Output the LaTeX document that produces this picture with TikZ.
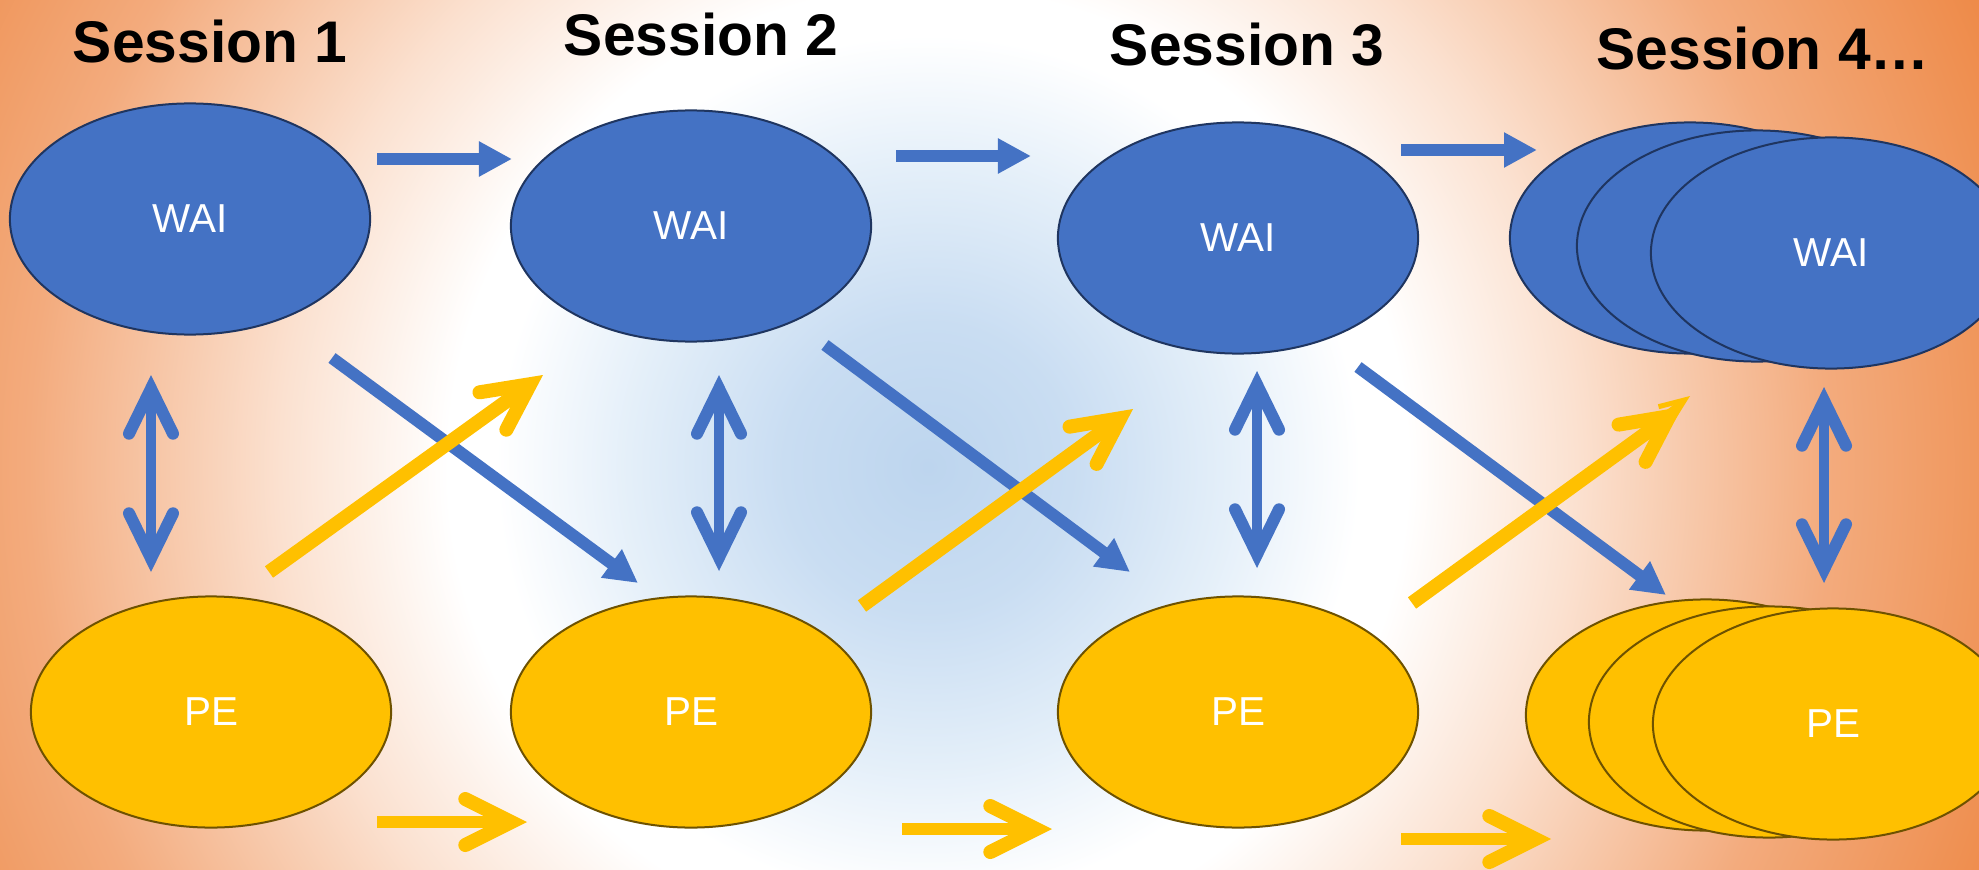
\documentclass[tikz,border=0pt]{standalone}
\usepackage{fontspec}
\setmainfont{Liberation Sans}
\usetikzlibrary{arrows.meta,shapes.geometric}
\definecolor{waiblue}{HTML}{4472C4}
\definecolor{waiedge}{HTML}{1F3560}
\definecolor{peyellow}{HTML}{FFC000}
\definecolor{peedge}{HTML}{6E5200}
\definecolor{bgA}{HTML}{BDD5EE}
\definecolor{bgB}{HTML}{C9DDF2}
\definecolor{bgC}{HTML}{E4EFF9}
\definecolor{bgD}{HTML}{FBE1D0}
\definecolor{bgE}{HTML}{F3AB7D}
\definecolor{bgF}{HTML}{EE8A48}
\pgfdeclareradialshading{bgshade}{\pgfpoint{0bp}{0bp}}{color(0bp)=(bgA); color(3bp)=(bgB); color(6.25bp)=(bgC); color(9bp)=(white); color(10bp)=(white); color(13.5bp)=(bgD); color(18.75bp)=(bgE); color(24bp)=(bgF); color(50bp)=(bgF)}
\begin{document}
\begin{tikzpicture}[x=0.01cm,y=-0.01cm,
  wai/.style={ellipse, draw=waiedge, fill=waiblue, line width=0.02cm,
    minimum width=3.6cm, minimum height=2.31cm, inner sep=0pt,
    text=white, font=\fontsize{11.5}{13}\selectfont},
  pe/.style={wai, draw=peedge, fill=peyellow},
  title/.style={font=\fontsize{16.7}{20}\selectfont\bfseries, anchor=base, inner sep=0pt},
  bluetri/.style={draw=waiblue, line width=0.12cm,
    -{Triangle[length=0.33cm,width=0.33cm]}},
  yelbarb/.style={draw=peyellow, line width=0.12cm,
    -{Straight Barb[length=0.46cm,width=0.46cm,line width=0.14cm,line cap=round]}},
  yeldiag/.style={yelbarb, line width=0.14cm},
  bluedbl/.style={draw=waiblue, line width=0.10cm,
    {Straight Barb[length=0.45cm,width=0.44cm,line width=0.12cm,line cap=round]}-{Straight Barb[length=0.45cm,width=0.44cm,line width=0.12cm,line cap=round]}}
]
\useasboundingbox (0,0) rectangle (1979,870);
\begin{scope}
  \clip (0,0) rectangle (1979,870);
  \shade[shading=bgshade] (-272,-733) rectangle (2128,1667);
\end{scope}

% titles
\node[title] (t1) at (210,63) {Session 1};
\node[title] (t2) at (701,56) {Session 2};
\node[title] (t3) at (1247,66) {Session 3};
\node[title] (t4) at (1763,70) {Session 4…};

% WAI ellipses
\node[wai] (w1) at (190,219) {WAI};
\node[wai] (w2) at (691,226) {WAI};
\node[wai] (w3) at (1238,238) {WAI};
\node[wai] (w4a) at (1690,238) {};
\node[wai] (w4b) at (1757,246) {};
\node[wai] (w4) at (1831,253) {WAI};

% PE ellipses
\node[pe] (p1) at (211,712) {PE};
\node[pe] (p2) at (691,712) {PE};
\node[pe] (p3) at (1238,712) {PE};
\node[pe] (p4a) at (1706,715) {};
\node[pe] (p4b) at (1769,722) {};
\node[pe] (p4) at (1833,724) {PE};

% arrow end points
\coordinate (bh1s) at (377,159);  \coordinate (bh1e) at (512,159);
\coordinate (bh2s) at (896,156);  \coordinate (bh2e) at (1031,156);
\coordinate (bh3s) at (1401,150); \coordinate (bh3e) at (1537,150);
\coordinate (yh1s) at (377,822);  \coordinate (yh1e) at (527,822);
\coordinate (yh2s) at (902,829);  \coordinate (yh2e) at (1052,829);
\coordinate (yh3s) at (1401,839); \coordinate (yh3e) at (1551,839);
\coordinate (v1s) at (151,375);  \coordinate (v1e) at (151,572);
\coordinate (v2s) at (719,375);  \coordinate (v2e) at (719,571);
\coordinate (v3s) at (1257,371); \coordinate (v3e) at (1257,568);
\coordinate (v4s) at (1824,387); \coordinate (v4e) at (1824,583);
\coordinate (bd1s) at (332,358);  \coordinate (bd1e) at (638,583);
\coordinate (bd2s) at (825,345);  \coordinate (bd2e) at (1130,572);
\coordinate (bd3s) at (1358,367); \coordinate (bd3e) at (1666,595);
\coordinate (yd1s) at (269,572);  \coordinate (yd1e) at (543,375);
\coordinate (yd2s) at (862,606);  \coordinate (yd2e) at (1133,409);
\coordinate (yd3s) at (1412,603); \coordinate (yd3e) at (1682,407);
\coordinate (yd4s) at (1420,594); \coordinate (yd4e) at (1690,396);

% blue horizontal arrows
\draw[bluetri] (bh1s) -- (bh1e);
\draw[bluetri] (bh2s) -- (bh2e);
\draw[bluetri] (bh3s) -- (bh3e);
% yellow horizontal arrows
\draw[yelbarb] (yh1s) -- (yh1e);
\draw[yelbarb] (yh2s) -- (yh2e);
\draw[yelbarb] (yh3s) -- (yh3e);
% vertical double arrows
\draw[bluedbl] (v1s) -- (v1e);
\draw[bluedbl] (v2s) -- (v2e);
\draw[bluedbl] (v3s) -- (v3e);
\draw[bluedbl] (v4s) -- (v4e);
% blue diagonal arrows
\draw[bluetri] (bd1s) -- (bd1e);
\draw[bluetri] (bd2s) -- (bd2e);
\draw[bluetri] (bd3s) -- (bd3e);
% yellow diagonal arrows
\draw[yeldiag] (yd1s) -- (yd1e);
\draw[yeldiag] (yd2s) -- (yd2e);
\draw[draw=peyellow, line width=0.05cm,
  -{Straight Barb[length=0.25cm,width=0.2cm,line width=0.05cm]}] (yd4s) -- (yd4e);
\draw[yeldiag] (yd3s) -- (yd3e);
\end{tikzpicture}
\end{document}
